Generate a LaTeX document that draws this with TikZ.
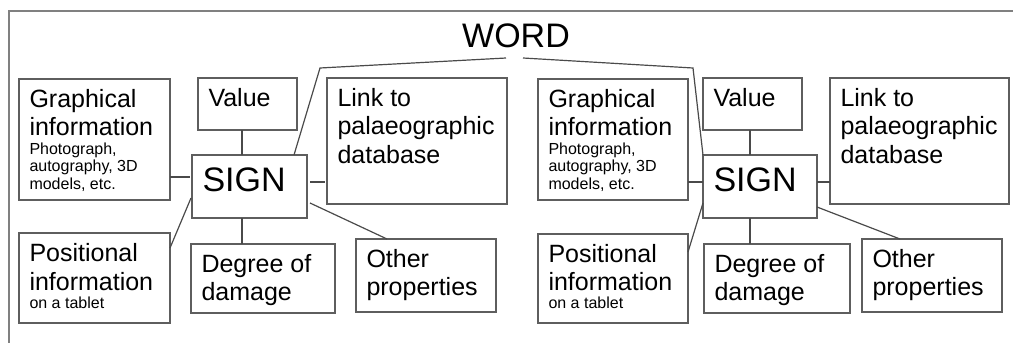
\documentclass[tikz,border=0pt]{standalone}
\usepackage{fontspec}
\setmainfont{Liberation Sans}
\usetikzlibrary{calc}

\definecolor{boxgray}{HTML}{5E5E5E}
\definecolor{wiregray}{HTML}{4A4A4A}
\definecolor{framegray}{HTML}{808080}

% text sizes (1pt = 1 pixel of the layout grid)
\newcommand\bigsize{\fontsize{25}{28.5}\selectfont}
\newcommand\smallsize{\fontsize{16}{17.5}\selectfont}
\newcommand\headsize{\fontsize{34}{38}\selectfont}

\begin{document}
\begin{tikzpicture}[x=1pt,y=-1pt,
  panel/.style 2 args={draw=boxgray, line width=1.2pt, minimum width=#1,
    minimum height=#2, anchor=north west, inner sep=0pt, outer sep=0pt},
  lbl/.style={anchor=base west, inner sep=0pt, outer sep=0pt, text=black},
  wire/.style={draw=wiregray, line width=1.2pt, line join=miter},
]
\useasboundingbox (0,0) rectangle (1013,343);

% outer frame (only its left and top edges lie inside the page)
\draw[framegray, line width=1.2pt] (9,343) -- (9,11) -- (1013,11);

% the word
\node[anchor=base, inner sep=0pt, text=black] (word) at (516,47) {\headsize WORD};

% ---------- first sign ----------
\node[panel={151pt}{121pt}] (gL) at (19,79) {};
\node[panel={99pt}{52pt}]   (vL) at (198,78) {};
\node[panel={180pt}{126pt}] (kL) at (327,78) {};
\node[panel={115pt}{63pt}]  (sL) at (192,155) {};
\node[panel={151pt}{90pt}]  (pL) at (19,233) {};
\node[panel={144pt}{69pt}]  (dL) at (191,244) {};
\node[panel={140pt}{73pt}]  (oL) at (356,239) {};

\node[lbl] (gLt) at ($(gL.north west)+(10.5,28)$) {\vtop{\bigsize
  \hbox{Graphical}\hbox{information}\smallsize\vskip1pt
  \hbox{Photograph,}\hbox{autography, 3D}\hbox{models, etc.}}};
\node[lbl] (vLt) at ($(vL.north west)+(10.5,28)$) {\bigsize Value};
\node[lbl] (kLt) at ($(kL.north west)+(10.5,28)$) {\vtop{\bigsize
  \hbox{Link to}\hbox{palaeographic}\hbox{database}}};
\node[lbl] (sLt) at ($(sL.north west)+(10.5,36)$) {\headsize SIGN};
\node[lbl] (pLt) at ($(pL.north west)+(10.5,28.5)$) {\vtop{\bigsize
  \hbox{Positional}\hbox{information}\smallsize\vskip0.5pt
  \hbox{on a tablet}}};
\node[lbl] (dLt) at ($(dL.north west)+(10.5,28)$) {\vtop{\bigsize
  \hbox{Degree of}\hbox{damage}}};
\node[lbl] (oLt) at ($(oL.north west)+(10.5,28)$) {\vtop{\bigsize
  \hbox{Other}\hbox{properties}}};

\draw[wire] ($(gL.north east)+(0,98)$) -- ($(sL.north west)+(-2,22)$);
\draw[wire] ($(vL.south west)+(44,0)$) -- ($(sL.north west)+(50,0)$);
\draw[wire] ($(sL.north east)+(3,27)$) -- ($(kL.north west)+(-2,104)$);
\draw[wire] ($(sL.north west)+(-1,43)$) -- ($(pL.north east)+(0,15)$);
\draw[wire] ($(sL.south west)+(50,0)$) -- ($(dL.north west)+(51,0)$);
\draw[wire] ($(sL.north east)+(3,48)$) -- ($(oL.north west)+(31,0)$);

% ---------- second sign ----------
\node[panel={150pt}{121pt}] (gR) at (538,79) {};
\node[panel={99pt}{52pt}]   (vR) at (703,78) {};
\node[panel={179pt}{126pt}] (kR) at (830,78) {};
\node[panel={114pt}{63pt}]  (sR) at (703,155) {};
\node[panel={150pt}{89pt}]  (pR) at (538,234) {};
\node[panel={146pt}{69pt}]  (dR) at (704,244) {};
\node[panel={140pt}{73pt}]  (oR) at (862,239) {};

\node[lbl] (gRt) at ($(gR.north west)+(10.5,28)$) {\vtop{\bigsize
  \hbox{Graphical}\hbox{information}\smallsize\vskip1pt
  \hbox{Photograph,}\hbox{autography, 3D}\hbox{models, etc.}}};
\node[lbl] (vRt) at ($(vR.north west)+(10.5,28)$) {\bigsize Value};
\node[lbl] (kRt) at ($(kR.north west)+(10.5,28)$) {\vtop{\bigsize
  \hbox{Link to}\hbox{palaeographic}\hbox{database}}};
\node[lbl] (sRt) at ($(sR.north west)+(10.5,36)$) {\headsize SIGN};
\node[lbl] (pRt) at ($(pR.north west)+(10.5,28)$) {\vtop{\bigsize
  \hbox{Positional}\hbox{information}\smallsize\vskip0.5pt
  \hbox{on a tablet}}};
\node[lbl] (dRt) at ($(dR.north west)+(10.5,28)$) {\vtop{\bigsize
  \hbox{Degree of}\hbox{damage}}};
\node[lbl] (oRt) at ($(oR.north west)+(10.5,28)$) {\vtop{\bigsize
  \hbox{Other}\hbox{properties}}};

\draw[wire] ($(gR.north east)+(0,103)$) -- ($(sR.north west)+(0,27)$);
\draw[wire] ($(vR.south west)+(47,0)$) -- ($(sR.north west)+(47,0)$);
\draw[wire] ($(sR.north east)+(0,27)$) -- ($(kR.north west)+(0,104)$);
\draw[wire] ($(sR.north west)+(0,48)$) -- ($(pR.north east)+(0,18)$);
\draw[wire] ($(sR.south west)+(47,0)$) -- ($(dR.north west)+(46,0)$);
\draw[wire] ($(sR.north east)+(0,52)$) -- ($(oR.north west)+(38,0)$);

% links from the word down to each sign
\coordinate (bendL) at (320,68);
\coordinate (bendR) at (693,68);
\draw[wire] ($(sL.north east)+(-13,0)$) -- (bendL) -- ($(word.base)+(-10,11)$);
\draw[wire] ($(word.base)+(7,11)$) -- (bendR) -- (sR.north west);
\end{tikzpicture}
\end{document}
